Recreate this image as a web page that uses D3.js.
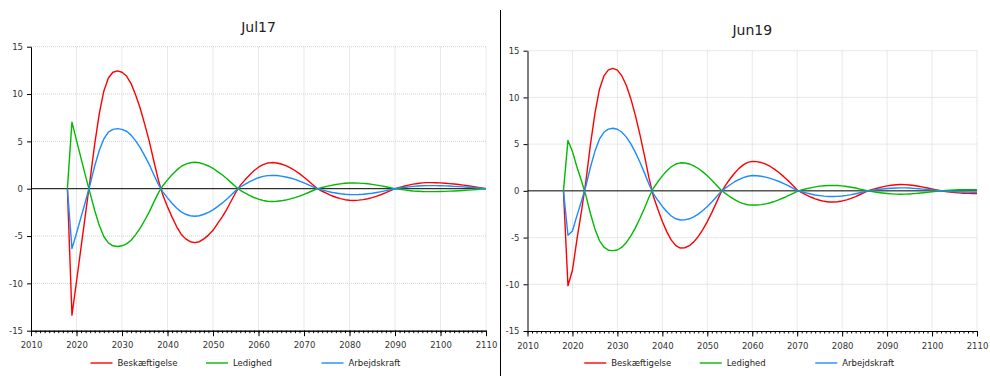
<!DOCTYPE html>
<html>
<head>
<meta charset="utf-8">
<script src="https://cdn.jsdelivr.net/npm/d3@7"></script>
<style>
  html, body { margin: 0; padding: 0; background: #fff; }
  svg { display: block; font-family: "DejaVu Sans", Verdana, sans-serif; }
</style>
</head>
<body>
<svg id="chart" width="990" height="376"></svg>
<script>
// years 2018..2110, one value per year
const years = d3.range(2018, 2111);
const seriesNames = ["Beskæftigelse", "Ledighed", "Arbejdskraft"];
const xTicks = [2010, 2020, 2030, 2040, 2050, 2060, 2070, 2080, 2090, 2100, 2110];
const yTicks = [-15, -10, -5, 0, 5, 10, 15];

const jul17Besk = [
  0, -13.36, -9.8, -6.2, -2.6, 1.0, 4.7, 7.9, 10.3, 11.7, 12.3, 12.45,
  12.3, 11.9, 11.1, 9.9, 8.5, 6.8, 5.0, 2.9, 0.9, -0.7, -1.9, -3.0, -4.0, -4.8, -5.3, -5.6,
  -5.7, -5.6, -5.3, -4.9, -4.4, -3.7, -3.0, -2.2, -1.3, -0.4, 0.35, 0.91, 1.43, 1.89, 2.27,
  2.54, 2.71, 2.76, 2.72, 2.61, 2.44, 2.21, 1.92, 1.59, 1.21, 0.81, 0.39, -0.02, -0.27,
  -0.50, -0.72, -0.90, -1.05, -1.16, -1.22, -1.24, -1.21, -1.15, -1.06, -0.94, -0.78, -0.61,
  -0.42, -0.21, 0, 0.13, 0.26, 0.38, 0.48, 0.55, 0.61, 0.64, 0.64, 0.63, 0.61, 0.58, 0.54,
  0.49, 0.44, 0.38, 0.31, 0.24, 0.16, 0.08, 0
];
const jul17Led = [
  0, 7.03, 5.1, 3.2, 1.3, -0.5, -2.3, -3.87, -5.05, -5.73, -6.03, -6.1,
  -6.03, -5.83, -5.44, -4.85, -4.17, -3.33, -2.45, -1.42, -0.44, 0.34, 0.93, 1.47, 1.96, 2.35, 2.6, 2.74,
  2.79, 2.74, 2.6, 2.4, 2.16, 1.81, 1.47, 1.08, 0.64, 0.2, -0.17, -0.45, -0.7, -0.93, -1.11,
  -1.24, -1.33, -1.35, -1.33, -1.28, -1.2, -1.08, -0.94, -0.78, -0.59, -0.4, -0.19, 0.01, 0.13,
  0.25, 0.35, 0.44, 0.51, 0.57, 0.6, 0.61, 0.59, 0.56, 0.52, 0.46, 0.38, 0.3,
  0.21, 0.1, 0, -0.06, -0.13, -0.19, -0.24, -0.27, -0.3, -0.31, -0.31, -0.31, -0.3, -0.28, -0.26,
  -0.24, -0.22, -0.19, -0.15, -0.12, -0.08, -0.04, 0
];
const jul17Arb = [
  0, -6.33, -4.7, -3.0, -1.3, 0.5, 2.4, 4.03, 5.25, 5.97, 6.27, 6.35,
  6.27, 6.07, 5.66, 5.05, 4.33, 3.47, 2.55, 1.48, 0.46, -0.36, -0.97, -1.53, -2.04, -2.45, -2.7, -2.86,
  -2.91, -2.86, -2.7, -2.5, -2.24, -1.89, -1.53, -1.12, -0.66, -0.2, 0.18, 0.46, 0.73, 0.96, 1.16,
  1.3, 1.38, 1.41, 1.39, 1.33, 1.24, 1.13, 0.98, 0.81, 0.62, 0.41, 0.2, -0.01, -0.14,
  -0.25, -0.37, -0.46, -0.54, -0.59, -0.62, -0.63, -0.62, -0.59, -0.54, -0.48, -0.4, -0.31,
  -0.21, -0.11, 0, 0.07, 0.13, 0.19, 0.24, 0.28, 0.31, 0.33, 0.33, 0.32, 0.31, 0.3, 0.28,
  0.25, 0.22, 0.19, 0.16, 0.12, 0.08, 0.04, 0
];

const jun19Besk = [
  0, -10.15, -8.5, -5.2, -2.2, 1.05, 4.95, 8.3, 10.85, 12.3, 12.95, 13.1,
  12.92, 12.3, 11.27, 9.84, 8.08, 6.05, 3.83, 1.44, -0.57, -1.98, -3.27, -4.39, -5.27, -5.86, -6.12,
  -6.09, -5.87, -5.46, -4.88, -4.14, -3.29, -2.33, -1.29, -0.22, 0.56, 1.24, 1.86, 2.38, 2.78,
  3.05, 3.16, 3.13, 3.03, 2.86, 2.61, 2.3, 1.94, 1.52, 1.07, 0.59, 0.1, -0.2, -0.44, -0.66,
  -0.86, -1.01, -1.12, -1.19, -1.2, -1.16, -1.08, -0.96, -0.8, -0.61, -0.39, -0.16, 0.04, 0.18,
  0.31, 0.43, 0.53, 0.6, 0.66, 0.68, 0.67, 0.63, 0.57, 0.49, 0.4, 0.3, 0.2, 0.1, 0.01, -0.07,
  -0.13, -0.18, -0.22, -0.25, -0.27, -0.28, -0.29
];
const jun19Led = [
  0, 5.4, 4.2, 2.55, 1.08, -0.51, -2.42, -4.07, -5.32, -6.03, -6.35, -6.4,
  -6.33, -6.03, -5.52, -4.82, -3.96, -2.96, -1.88, -0.71, 0.28, 0.97, 1.6, 2.15, 2.58, 2.87, 3.0,
  2.98, 2.88, 2.68, 2.39, 2.03, 1.61, 1.14, 0.63, 0.11, -0.27, -0.61, -0.91, -1.17, -1.36,
  -1.49, -1.52, -1.51, -1.47, -1.39, -1.27, -1.12, -0.94, -0.74, -0.52, -0.29, -0.05, 0.1, 0.22, 0.32,
  0.42, 0.5, 0.55, 0.58, 0.59, 0.57, 0.53, 0.47, 0.39, 0.3, 0.19, 0.08, -0.02, -0.1,
  -0.17, -0.23, -0.28, -0.32, -0.35, -0.36, -0.35, -0.33, -0.3, -0.26, -0.21, -0.16, -0.1, -0.05, 0, 0.04,
  0.07, 0.09, 0.11, 0.12, 0.13, 0.13, 0.13
];
const jun19Arb = [
  0, -4.75, -4.3, -2.65, -1.12, 0.54, 2.53, 4.23, 5.53, 6.27, 6.6, 6.7,
  6.59, 6.27, 5.75, 5.02, 4.12, 3.09, 1.95, 0.73, -0.29, -1.01, -1.67, -2.24, -2.69, -2.99, -3.12,
  -3.11, -2.99, -2.78, -2.49, -2.11, -1.68, -1.19, -0.66, -0.11, 0.29, 0.63, 0.95, 1.21, 1.42,
  1.56, 1.64, 1.62, 1.56, 1.47, 1.34, 1.18, 1.0, 0.78, 0.55, 0.3, 0.05, -0.1, -0.22, -0.34,
  -0.44, -0.51, -0.57, -0.61, -0.61, -0.59, -0.55, -0.49, -0.41, -0.31, -0.2, -0.08, 0.02, 0.08,
  0.14, 0.2, 0.25, 0.28, 0.31, 0.32, 0.32, 0.3, 0.27, 0.23, 0.19, 0.14, 0.1, 0.05, 0.01, -0.03,
  -0.06, -0.09, -0.11, -0.13, -0.14, -0.15, -0.16
];

const COLORS = ["#ff0000", "#00bb00", "#1a8cff"];
const FONT_SMALL = 8.5;

const panels = [
  { title: "Jul17", series: [jul17Besk, jul17Led, jul17Arb],
    left: 31, right: 486, top: 46.7, bottom: 330.7, titleY: 32 },
  { title: "Jun19", series: [jun19Besk, jun19Led, jun19Arb],
    left: 527.5, right: 977, top: 50.7, bottom: 331, titleY: 35 }
];

const svg = d3.select("#chart");

function drawPanel(p) {
  const x = d3.scaleLinear().domain([2010, 2110]).range([p.left, p.right]);
  const y = d3.scaleLinear().domain([-15, 15]).range([p.bottom, p.top]);
  const g = svg.append("g");
  const cx = (p.left + p.right) / 2;

  g.append("text")
    .attr("x", cx)
    .attr("y", p.titleY)
    .attr("text-anchor", "middle")
    .attr("font-size", 14)
    .attr("fill", "#222")
    .text(p.title);

  // dotted grid
  g.append("g").selectAll("line")
    .data(xTicks.slice(1))
    .join("line")
    .attr("x1", d => x(d)).attr("x2", d => x(d))
    .attr("y1", p.top).attr("y2", p.bottom)
    .attr("stroke", "#d2d2d2").attr("stroke-dasharray", "1,1");
  g.append("g").selectAll("line")
    .data(yTicks.filter(d => d !== 0 && d !== -15))
    .join("line")
    .attr("x1", p.left).attr("x2", p.right)
    .attr("y1", d => y(d)).attr("y2", d => y(d))
    .attr("stroke", "#d2d2d2").attr("stroke-dasharray", "1,1");

  g.append("line")
    .attr("x1", p.left).attr("x2", p.right)
    .attr("y1", y(0)).attr("y2", y(0))
    .attr("stroke", "#000").attr("stroke-width", 1);

  const line = d3.line()
    .x((d, i) => x(years[i]))
    .y(d => y(d));

  g.append("g").selectAll("path")
    .data(p.series)
    .join("path")
    .attr("fill", "none")
    .attr("stroke", (d, i) => COLORS[i])
    .attr("stroke-width", 1.4)
    .attr("stroke-linejoin", "round")
    .attr("d", line);

  // axes
  const yAxis = g.append("g")
    .attr("transform", `translate(${p.left},0)`)
    .call(d3.axisLeft(y).tickValues(yTicks).tickSize(4).tickPadding(4)
      .tickFormat(d => String(d)).tickSizeOuter(0));
  const xMinor = g.append("g")
    .attr("transform", `translate(0,${p.bottom})`)
    .call(d3.axisBottom(x).tickValues(d3.range(2010, 2111)).tickSize(2.5).tickFormat("").tickSizeOuter(0));
  const xAxis = g.append("g")
    .attr("transform", `translate(0,${p.bottom})`)
    .call(d3.axisBottom(x).tickValues(xTicks).tickSize(5.5).tickPadding(6)
      .tickFormat(d => String(d)).tickSizeOuter(0));

  [yAxis, xMinor, xAxis].forEach(a => {
    a.attr("font-family", null).attr("font-size", FONT_SMALL);
    a.selectAll("text").attr("fill", "#333");
    a.selectAll("line").attr("stroke", "#000");
    a.select(".domain").attr("stroke", "#000");
  });

  // legend
  const legStart = cx - 168;
  const leg = g.append("g").selectAll("g")
    .data(seriesNames)
    .join("g")
    .attr("transform", (d, i) => `translate(${legStart + i * 115.5},363)`);
  leg.append("line")
    .attr("x1", 0).attr("x2", 22)
    .attr("stroke", (d, i) => COLORS[i])
    .attr("stroke-width", 1.4);
  leg.append("text")
    .attr("x", 27).attr("y", 3.2)
    .attr("font-size", FONT_SMALL)
    .attr("fill", "#222")
    .text(d => d);
}

panels.forEach(drawPanel);

svg.append("line")
  .attr("x1", 500.5).attr("x2", 500.5)
  .attr("y1", 10).attr("y2", 376)
  .attr("stroke", "#000");
</script>
</body>
</html>
